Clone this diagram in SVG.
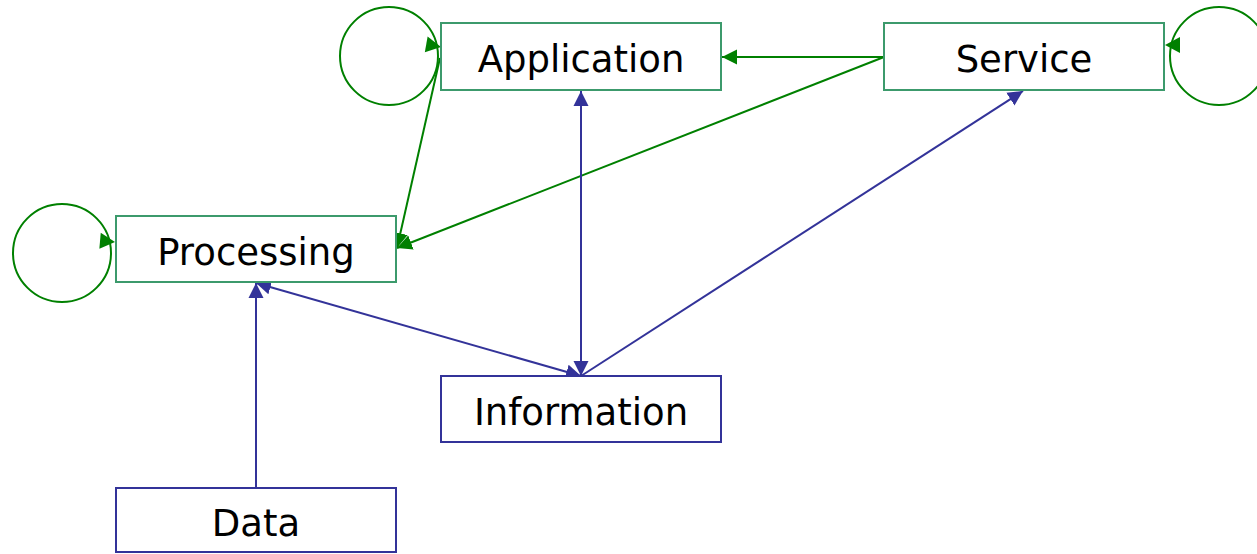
<svg xmlns="http://www.w3.org/2000/svg" width="1257" height="554" viewBox="0 0 1257 554">
<style>
.g rect{fill:#fff;stroke:#3c9a6c;stroke-width:2}
.b rect{fill:#fff;stroke:#333399;stroke-width:2}
text{font-family:"DejaVu Sans",Verdana,sans-serif;font-size:37px;fill:#000;text-anchor:middle}
.eg{stroke:#008000;stroke-width:2;fill:none}
.eb{stroke:#333399;stroke-width:2;fill:none}
</style>
<defs>
<marker id="ag" markerUnits="userSpaceOnUse" markerWidth="16" markerHeight="16" refX="15" refY="7.5" orient="auto-start-reverse" viewBox="0 0 16 15"><path d="M0,0 L15,7.5 L0,15 z" fill="#008000"/></marker>
<marker id="ab" markerUnits="userSpaceOnUse" markerWidth="16" markerHeight="16" refX="15" refY="7.5" orient="auto-start-reverse" viewBox="0 0 16 15"><path d="M0,0 L15,7.5 L0,15 z" fill="#333399"/></marker>
<path id="head" d="M0,0 L-15,-8 L-15,8 z"/>
</defs>
<g id="connectors">
<circle class="eg" cx="389" cy="56" r="49"/>
<use href="#head" fill="#008000" transform="translate(441,47) rotate(10)"/>
<circle class="eg" cx="1219" cy="56" r="49"/>
<use href="#head" fill="#008000" transform="translate(1165,45) rotate(180)"/>
<circle class="eg" cx="62" cy="253" r="49"/>
<use href="#head" fill="#008000" transform="translate(115,242) rotate(5)"/>
<line class="eg" x1="884" y1="57" x2="722" y2="57" marker-end="url(#ag)"/>
<line class="eg" x1="884" y1="57" x2="397" y2="248" marker-end="url(#ag)"/>
<line class="eg" x1="440" y1="58" x2="397" y2="248" marker-end="url(#ag)"/>
<line class="eb" x1="581" y1="91" x2="581" y2="376" marker-start="url(#ab)" marker-end="url(#ab)"/>
<line class="eb" x1="581" y1="376" x2="1023" y2="91" marker-end="url(#ab)"/>
<line class="eb" x1="256" y1="283" x2="581" y2="376" marker-start="url(#ab)" marker-end="url(#ab)"/>
<line class="eb" x1="256" y1="488" x2="256" y2="283" marker-end="url(#ab)"/>
</g>
<g id="application" class="g"><rect x="441" y="23" width="280" height="67"/><text x="581" y="72">Application</text></g>
<g id="service" class="g"><rect x="884" y="23" width="280" height="67"/><text x="1024" y="72">Service</text></g>
<g id="processing" class="g"><rect x="116" y="216" width="280" height="66"/><text x="256" y="265">Processing</text></g>
<g id="information" class="b"><rect x="441" y="376" width="280" height="66"/><text x="581" y="425">Information</text></g>
<g id="data" class="b"><rect x="116" y="488" width="280" height="64"/><text x="256" y="536">Data</text></g>
</svg>
